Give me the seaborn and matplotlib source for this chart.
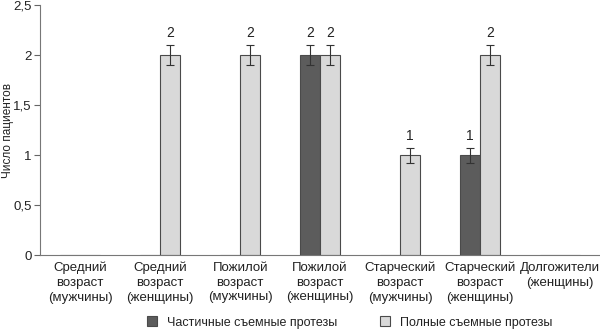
import matplotlib
matplotlib.use("Agg")
import matplotlib.pyplot as plt
import seaborn as sns
import pandas as pd
import numpy as np
from matplotlib.lines import Line2D

categories = ["Средний\nвозраст\n(мужчины)", "Средний\nвозраст\n(женщины)",
              "Пожилой\nвозраст\n(мужчины)", "Пожилой\nвозраст\n(женщины)",
              "Старческий\nвозраст\n(мужчины)", "Старческий\nвозраст\n(женщины)",
              "Долгожители\n(женщины)"]
series_names = ["Частичные съемные протезы", "Полные съемные протезы"]
partial_values = [0, 0, 0, 2, 0, 1, 0]
full_values = [0, 2, 2, 2, 1, 2, 0]
partial_err = [0, 0, 0, 0.1, 0, 0.075, 0]
full_err = [0, 0.1, 0.1, 0.1, 0.075, 0.1, 0]
yticks = [0, 0.5, 1, 1.5, 2, 2.5]
ytick_labels = ["0", "0,5", "1", "1,5", "2", "2,5"]

colors = ["#5c5c5c", "#d9d9d9"]
edge = "#4a4a4a"
text_color = "#222222"

df = pd.DataFrame({
    "cat": categories * 2,
    "series": [series_names[0]] * 7 + [series_names[1]] * 7,
    "value": partial_values + full_values,
})

sns.set_style("white")
plt.rcParams["font.family"] = ["Liberation Sans", "DejaVu Sans"]

fig = plt.figure(figsize=(6, 3.36), dpi=100)
ax = fig.add_axes([0.067, 0.241, 0.933, 0.744])

sns.barplot(data=df, x="cat", y="value", hue="series", order=categories,
            hue_order=series_names, palette=colors, width=0.5,
            errorbar=None, edgecolor=edge, linewidth=0.8, ax=ax, legend=False)

vals_all = [partial_values, full_values]
errs_all = [partial_err, full_err]
bar_containers = list(ax.containers)[:2]
for si, container in enumerate(bar_containers):
    for bi, patch in enumerate(container):
        v = vals_all[si][bi]
        if v == 0:
            continue
        cx = patch.get_x() + patch.get_width() / 2
        e = errs_all[si][bi]
        ax.errorbar(cx, v, yerr=e, fmt="none", ecolor="#333333",
                    elinewidth=0.8, capsize=3, capthick=0.8)
        ax.text(cx, v + e + 0.05, f"{v}", ha="center", va="bottom",
                fontsize=10, color=text_color)

ax.set_ylim(0, 2.5)
ax.set_xlim(-0.5, len(categories) - 0.5)
ax.set_yticks(yticks)
ax.set_yticklabels(ytick_labels, fontsize=9.5, color=text_color)
ax.set_xticks(range(len(categories)))
ax.set_xticklabels(categories, fontsize=9.5, color=text_color, linespacing=1.3)
ax.set_xticks(np.arange(-0.5, len(categories) + 0.5, 1), minor=True)
ax.tick_params(axis="x", which="major", length=0, pad=5)
ax.tick_params(axis="x", which="minor", length=4, width=0.8, color="#666666", direction="out")
ax.tick_params(axis="y", length=4, width=0.8, color="#666666", direction="out", left=True, pad=2)
ax.set_xlabel("")
ax.set_ylabel("Число пациентов", fontsize=8.5, color=text_color, va="center")
ax.yaxis.set_label_coords(-0.058, 0.5)
for s in ["top", "right"]:
    ax.spines[s].set_visible(False)
for s in ["left", "bottom"]:
    ax.spines[s].set_color("#777777")
    ax.spines[s].set_linewidth(0.8)

handles = [Line2D([], [], marker="s", linestyle="none", markersize=7,
                  markerfacecolor=c, markeredgecolor=edge, markeredgewidth=0.8)
           for c in colors]
fig.legend(handles, series_names, loc="lower center", bbox_to_anchor=(0.581, -0.012),
           ncol=2, frameon=False, fontsize=9, columnspacing=3.2, handletextpad=0.6,
           handlelength=1.2, labelcolor=text_color)

fig.savefig("out.png", dpi=100)
